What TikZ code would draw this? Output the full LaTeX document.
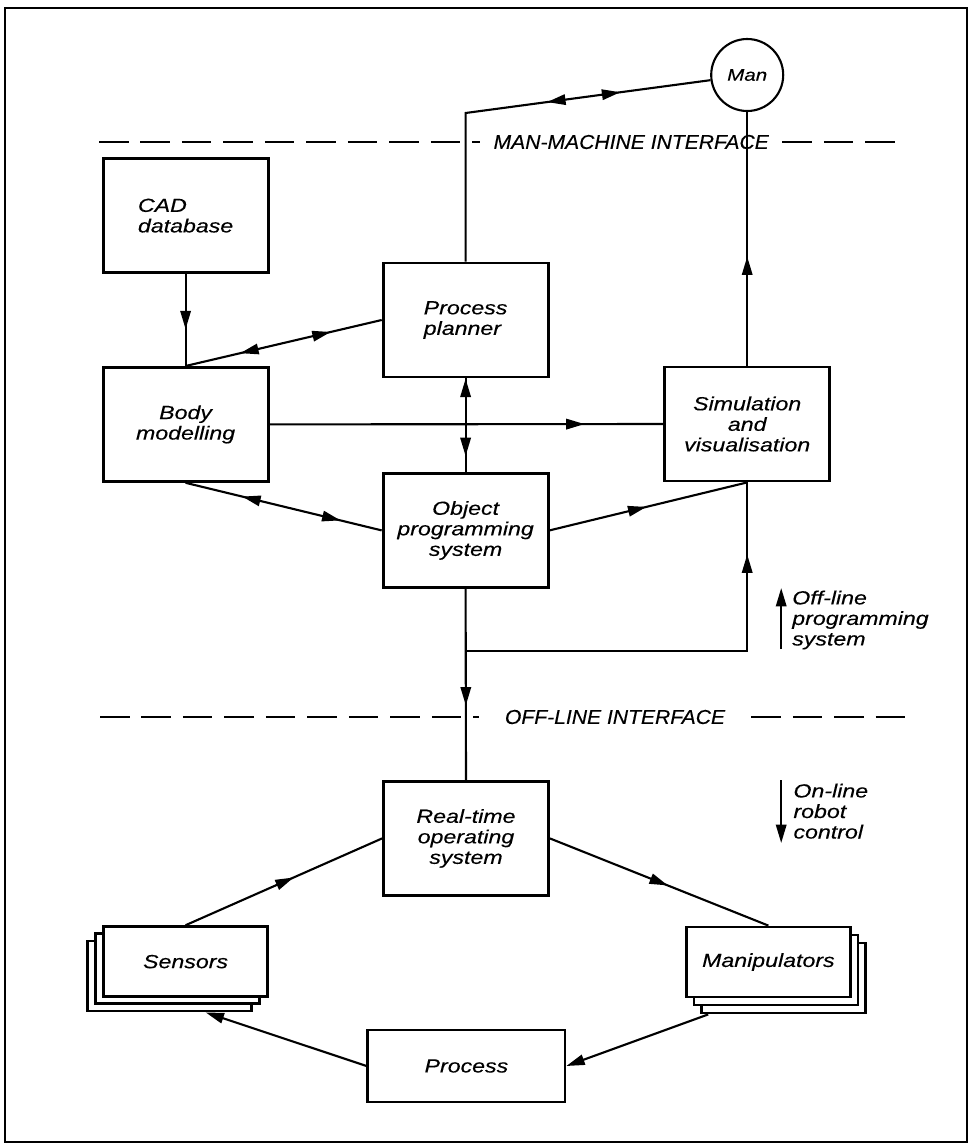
\documentclass[tikz,border=0pt]{standalone}
\usepackage{fontspec}
\setmainfont{Liberation Sans}[FakeStretch=1.22, FakeBold=0.3]
\newfontfamily\labelfont{Liberation Sans}[FakeStretch=1.05, FakeBold=0.3]
\usetikzlibrary{arrows.meta,calc,positioning,decorations.markings}

\begin{document}
\begin{tikzpicture}[>={Triangle[length=4.6mm,width=2.6mm]},
  every node/.style={font=\itshape\fontsize{13.5}{14.6}\selectfont, inner sep=0pt},
  unit/.style={draw, line width=2pt, fill=white, minimum width=4.125cm, minimum height=2.85cm, align=center},
  stack/.style={unit, minimum width=4.1cm, minimum height=1.75cm},
  flow/.style={line width=1.5pt},
  interface/.style={line width=1.9pt, dash pattern=on 21pt off 8.5pt},
  label/.style={font=\labelfont\itshape\fontsize{14.3}{15}\selectfont},
  fwdat/.style={postaction={decorate, decoration={markings, mark=at position #1 with {\arrow{>}}}}},
  bwdat/.style={postaction={decorate, decoration={markings, mark=at position #1 with {\arrow{<}}}}}]
  \useasboundingbox (0,0) rectangle (24.35,-28.6);
  \draw[line width=1.5pt] (0.125,-0.2) rectangle (24.175,-28.55);

  % off-line programming system
  \node[draw, circle, line width=1.5pt, minimum size=1.8cm, font=\itshape\fontsize{12}{13}\selectfont] (man) at (18.68,-1.875) {Man};
  \node[unit, align=left] (cad) at (4.64,-5.39) {CAD\\database};
  \node[unit, align=left] (planner) at (11.64,-8.0) {Process\\planner};
  \node[unit] (body) at (4.64,-10.61) {Body\\modelling};
  \node[unit] (sim) at (18.68,-10.6) {Simulation\\and\\visualisation};
  \node[unit] (object) at (11.64,-13.26) {Object\\programming\\system};
  \coordinate (kneeA) at (planner.north |- 0,-2.825);
  \coordinate (split) at (object.south |- 0,-16.275);
  \draw[flow, bwdat=0.63, fwdat=0.77] (planner.north) -- (kneeA) -- (man.188);
  \draw[flow, fwdat=0.43] (sim.north) -- (man.south);
  \draw[flow, fwdat=0.6] (cad.south) -- (body.north);
  \draw[flow, bwdat=0.37, fwdat=0.74] (body.north) -- (planner.west);
  \draw[flow, bwdat=0.2, fwdat=0.83] (planner.south) -- (object.north);
  \draw[flow, fwdat=0.8] (body.east) -- (sim.west);
  \draw[flow, bwdat=0.38, fwdat=0.79] (body.south) -- (object.west);
  \draw[flow, fwdat=0.49] (object.east) -- (sim.south);
  \draw[flow, fwdat=0.84] (split) -| (sim.south);

  % interfaces
  \node[label, inner xsep=0.33cm] (mmi) at (15.78,-3.55) {MAN-MACHINE INTERFACE};
  \coordinate (mmiL) at (2.475,-3.55);
  \coordinate (mmiR) at (22.4,-3.55);
  \draw[interface] (mmiL) -- (mmi.west);
  \draw[interface] (mmi.east) -- (mmiR);
  \node[label, inner xsep=0.65cm] (oli) at (15.375,-17.925) {OFF-LINE INTERFACE};
  \coordinate (oliL) at (2.5,-17.925);
  \coordinate (oliR) at (22.8,-17.925);
  \draw[interface] (oliL) -- (oli.west);
  \draw[interface] (oli.east) -- (oliR);

  % on-line robot control
  \node[unit] (rtos) at (11.65,-20.96) {Real-time\\operating\\system};
  \node[stack] (sensC) at (4.24,-24.4) {};
  \node[stack] (sensB) at (4.44,-24.22) {};
  \node[stack] (sensors) at (4.64,-24.04) {Sensors};
  \node[stack] (manipC) at (19.59,-24.45) {};
  \node[stack] (manipB) at (19.4,-24.25) {};
  \node[stack] (manip) at (19.21,-24.05) {Manipulators};
  \node[unit, minimum width=4.925cm, minimum height=1.8cm] (process) at (11.66,-26.65) {Process};
  \draw[flow, fwdat=0.61] (object.south) -- (rtos.north);
  \draw[flow, fwdat=0.55] (sensors.north) -- (rtos.west);
  \draw[flow, fwdat=0.54] (rtos.east) -- (manip.north);
  \draw[flow, ->] ($(manipC.south west)+(0.2,0)$) -- (process.east);
  \draw[flow, ->] (process.west) -- ($(sensC.south)+(0.9,0)$);

  % direction notes
  \node[anchor=west, align=left] (offline) at (19.8,-15.5) {Off-line\\programming\\system};
  \node[anchor=west, align=left] (online) at (19.83,-20.28) {On-line\\robot\\control};
  \coordinate (offA) at (19.53,-16.225);
  \coordinate (offB) at (19.53,-14.7);
  \coordinate (onA) at (19.53,-19.5);
  \coordinate (onB) at (19.53,-21.075);
  \draw[flow, ->] (offA) -- (offB);
  \draw[flow, ->] (onA) -- (onB);
\end{tikzpicture}
\end{document}
